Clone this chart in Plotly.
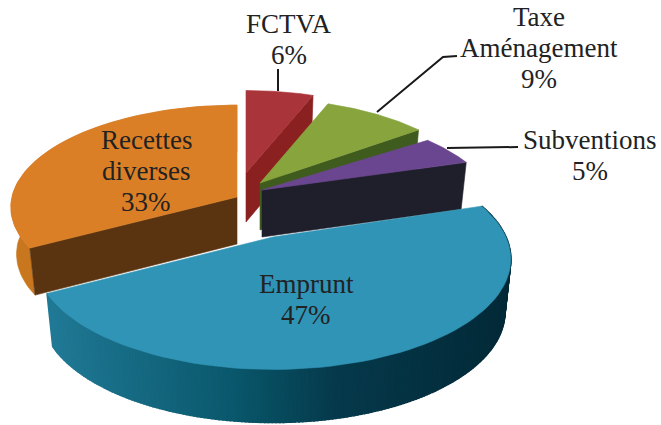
import numpy as np
import plotly.graph_objects as go

# Data
categories = ["Emprunt", "Recettes diverses", "FCTVA", "Taxe Aménagement", "Subventions"]
shares = [47, 33, 6, 9, 5]

# Drawing parameters (one per slice, same order): apex pixel, radii, depth
START_ANGLE = -18.0
perspective = [0.2, 0.1, 0.2, 0.2, 0.2]
BOTTOM_SCALE = 0.975
apex = [(273, 237), (237, 197), (246, 173), (260, 183), (262, 190)]
radii = [(233, 106), (225, 101), (216, 99), (219, 101), (228, 95)]
depth = [53, 47, 49, 47, 47]
top_col = ["#3094b6", "#db7f27", "#a9353a", "#87a53c", "#6b4690"]
cut_col = [None, "#5a3410", "#8a201f", "#3f5c1e", "#1f1f2b"]
arc_col = [None, "#c9771f", None, None, None]
grad = [(0.0, (33, 122, 150)), (0.4, (10, 88, 108)), (0.62, (6, 58, 76)), (1.0, (3, 42, 56))]
INK = "#222222"
FONT = "Liberation Serif"
SIZE = 27
PITCH = 31

frac = np.cumsum([0] + shares) / sum(shares) * 360 + START_ANGLE


def proj(i, t_deg):
    t = np.radians(np.asarray(t_deg, dtype=float))
    X, Y = np.cos(t), np.sin(t)
    d = 1 - perspective[i] * Y
    return apex[i][0] + radii[i][0] * X / d, apex[i][1] + radii[i][1] * Y / d


def lower(i, x):
    return apex[i][0] + (np.asarray(x, dtype=float) - apex[i][0]) * BOTTOM_SCALE


def poly(fig, x, y, color, lw=0.6):
    fig.add_trace(go.Scatter(x=list(x), y=list(y), mode="lines", fill="toself", fillcolor=color,
                             line=dict(color=color, width=lw), hoverinfo="skip", showlegend=False))


def grad_color(u):
    for (u0, c0), (u1, c1) in zip(grad, grad[1:]):
        if u <= u1:
            f = (u - u0) / (u1 - u0)
            return "rgb(%d,%d,%d)" % tuple(int(a + (b - a) * f) for a, b in zip(c0, c1))
    return "rgb(%d,%d,%d)" % grad[-1][1]


fig = go.Figure()


def cut_face(i, angle):
    x, y = proj(i, [angle])
    ax, ay = apex[i]
    h = depth[i]
    poly(fig, [ax, x[0], lower(i, x)[0], ax, ax], [ay, y[0], y[0] + h, ay + h, ay], cut_col[i])


def top_face(i):
    ts = np.linspace(frac[i], frac[i + 1], 80)
    x, y = proj(i, ts)
    ax, ay = apex[i]
    poly(fig, [ax, *x, ax], [ay, *y, ay], top_col[i])


# FCTVA (back)
cut_face(2, frac[3])
top_face(2)

# Recettes diverses
ts = np.linspace(frac[1], frac[2], 60)
x, y = proj(1, ts)
poly(fig, [*x, *lower(1, x)[::-1]], [*y, *(y + depth[1])[::-1]], arc_col[1])
cut_face(1, frac[1])
top_face(1)

# Taxe Aménagement
cut_face(3, frac[4])
top_face(3)

# Subventions
cut_face(4, frac[5])
top_face(4)

# Emprunt: shaded rim, then the top face
edges = np.linspace(frac[0], frac[1], 220)
ex, ey = proj(0, edges)
bx = lower(0, ex)
xmin, xmax = ex.min(), ex.max()
for j in range(len(edges) - 1):
    xs = [ex[j], ex[j + 1], bx[j + 1], bx[j], ex[j]]
    ys = [ey[j], ey[j + 1], ey[j + 1] + depth[0], ey[j] + depth[0], ey[j]]
    poly(fig, xs, ys, grad_color((0.5 * (ex[j] + ex[j + 1]) - xmin) / (xmax - xmin)), lw=1.6)
top_face(0)

# Leader lines
leaders = [([278, 278], [69, 91]),
           ([377, 443, 457], [112, 57, 56]),
           ([447, 518], [148, 147])]
for lx, ly in leaders:
    fig.add_trace(go.Scatter(x=lx, y=ly, mode="lines", line=dict(color="#1a1a1a", width=2),
                             hoverinfo="skip", showlegend=False))

# Labels, set line by line at the reference's line pitch
labels = [
    (306, 284, ["Emprunt"], shares[0]),
    (146, 140, ["Recettes", "diverses"], shares[1]),
    (289, 24, ["FCTVA"], shares[2]),
    (539, 17, ["Taxe", "Aménagement"], shares[3]),
    (590, 140, ["Subventions"], shares[4]),
]
for lx, ly, lines, pct in labels:
    for k, txt in enumerate(lines + [f"{pct}%"]):
        fig.add_annotation(x=lx, y=ly + k * PITCH, text=txt, showarrow=False, xanchor="center",
                           yanchor="middle", font=dict(family=FONT, size=SIZE, color=INK))

fig.update_layout(width=661, height=425, margin=dict(l=0, r=0, t=0, b=0),
                  paper_bgcolor="white", plot_bgcolor="white", showlegend=False,
                  xaxis=dict(range=[0, 661], visible=False, fixedrange=True),
                  yaxis=dict(range=[425, 0], visible=False, fixedrange=True))
fig.write_html("out.html", config={"displayModeBar": False},
               post_script="document.body.style.margin='0';document.documentElement.style.overflow='hidden';")
